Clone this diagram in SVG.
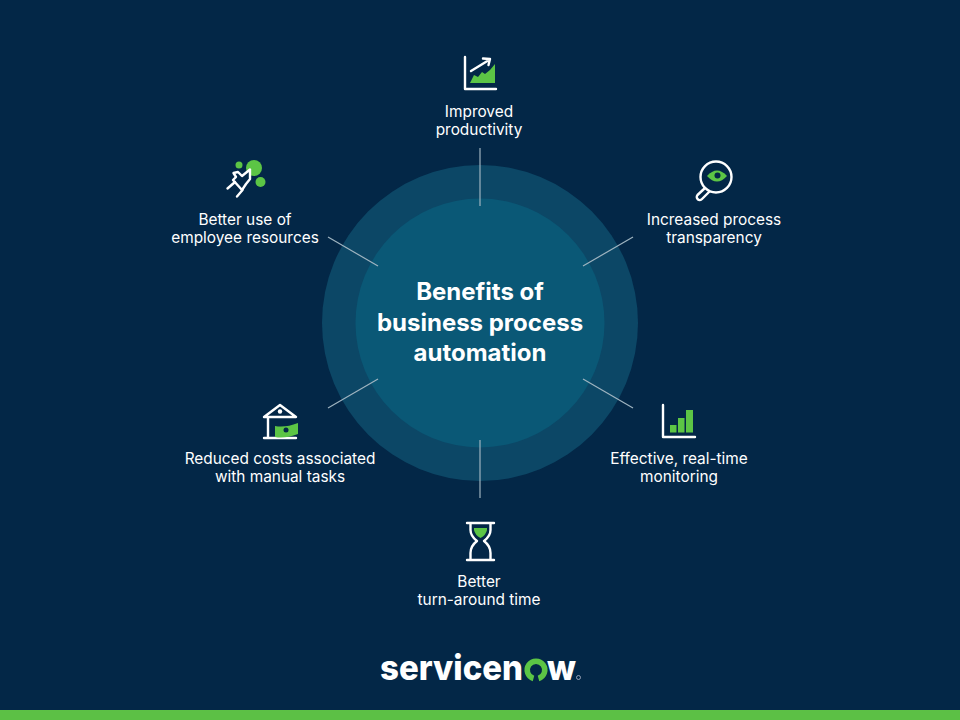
<svg xmlns="http://www.w3.org/2000/svg" width="960" height="720" viewBox="0 0 960 720">
<style>
.lbl{font-family:"Inter","Noto Sans",sans-serif;font-size:15.400px;fill:#fff;text-anchor:middle}
.ttl{font-family:"Inter","Noto Sans",sans-serif;font-size:24px;font-weight:700;fill:#fff;text-anchor:middle}
.ln{stroke:#fff;stroke-width:2.400;fill:none;stroke-linecap:round;stroke-linejoin:round}
.gr{fill:#5cc545}
.con{stroke:#9fb4c0;stroke-width:1.200;fill:none}
.logo{font-family:"Inter","Noto Sans",sans-serif;font-size:35px;font-weight:800;fill:#fff}
</style>
<rect width="960" height="720" fill="#032747"/>
<rect y="710" width="960" height="10" fill="#5cc045"/>
<circle cx="480" cy="323" r="158" fill="#0c4766"/>
<circle cx="480" cy="323" r="124.500" fill="#0a5876"/>
<g id="connectors">
<line class="con" x1="480" y1="148" x2="480" y2="206"/>
<line class="con" x1="633" y1="237" x2="583" y2="266"/>
<line class="con" x1="633" y1="408" x2="583" y2="379"/>
<line class="con" x1="480" y1="440" x2="480" y2="498"/>
<line class="con" x1="328" y1="408" x2="378" y2="379"/>
<line class="con" x1="328" y1="237" x2="378" y2="266"/>
</g>
<g id="center"><text class="ttl" x="480" y="299.500">Benefits of</text><text class="ttl" x="480" y="330.500">business process</text><text class="ttl" x="480" y="361">automation</text></g>
<g id="productivity">
<path class="gr" d="M470 83 L474 75 L478 77 L482 72 L485 74 L490 70 L495 64 V83 Z"/>
<path class="ln" d="M465 57 V89 H496"/>
<path class="ln" d="M471 71 L489 60 M483 58.500 L490 59 L488.500 65"/>
<text class="lbl" x="479" y="117">Improved</text><text class="lbl" x="479" y="135">productivity</text>
</g>
<g id="transparency">
<circle class="ln" cx="716" cy="177" r="15.500"/>
<path class="gr" d="M707 176 Q717 165 727 176 Q717 187 707 176 Z"/>
<circle cx="717.500" cy="175.500" r="3" fill="#032747"/>
<path class="ln" d="M705 188 L697.500 195 A2.800 2.800 0 0 0 702 199 L709 192"/>
<text class="lbl" x="714" y="225">Increased process</text><text class="lbl" x="714" y="243">transparency</text>
</g>
<g id="monitoring">
<path class="ln" d="M663 405 V437 H695"/>
<rect class="gr" x="670" y="425" width="6.500" height="7.500"/>
<rect class="gr" x="678" y="418" width="6.500" height="14.500"/>
<rect class="gr" x="686" y="410" width="7" height="22.500"/>
<text class="lbl" x="679" y="464">Effective, real-time</text><text class="lbl" x="679" y="482">monitoring</text>
</g>
<g id="turnaround">
<path class="ln" d="M467 523 H494 M467 560 H494 M470.500 523 V530 Q470.500 536 477 541 Q470.500 546 470.500 553 V560 M490.500 523 V530 Q490.500 536 484 541 Q490.500 546 490.500 553 V560"/>
<path class="gr" d="M474 528 H487 V530 Q486 535 480.500 538 Q475 535 474 530 Z"/>
<text class="lbl" x="479" y="587">Better</text><text class="lbl" x="479" y="605">turn-around time</text>
</g>
<g id="costs">
<path class="ln" d="M264 417 L280 405 L296 417 Z M268 418 V438 M264 438 H296"/>
<circle cx="280" cy="411.500" r="2.200" fill="#fff"/>
<path class="gr" d="M275 426 Q285 428 298 423 V434 Q285 439 275 437 Z"/>
<circle cx="286" cy="430" r="2.500" fill="#032747"/>
<text class="lbl" x="280" y="464">Reduced costs associated</text><text class="lbl" x="280" y="482">with manual tasks</text>
</g>
<g id="resources">
<circle class="gr" cx="254" cy="168" r="8"/><circle class="gr" cx="239" cy="165" r="3.500"/><circle class="gr" cx="260.500" cy="182" r="5"/>
<path class="ln" style="fill:#032747" d="M233.500 173 L238 172 L242 176 L250 169.500 L250 179 L246 184 L242 190 L233 180 L236 177 Z"/>
<path class="ln" d="M235 182 L227.500 188.500 M242.500 190 L237 196.500"/>
<text class="lbl" x="245" y="225">Better use of</text><text class="lbl" x="245" y="243">employee resources</text>
</g>
<g id="logo">
<text class="logo" x="380" y="680" textLength="143" lengthAdjust="spacingAndGlyphs">servicen</text>
<path d="M533.500 678.500 A8.800 8.800 0 1 1 538.500 678.500" fill="none" stroke="#5cc545" stroke-width="5.500"/>
<text class="logo" x="547" y="680" textLength="29" lengthAdjust="spacingAndGlyphs">w</text>
<circle cx="578.500" cy="677.500" r="2" fill="none" stroke="#ccd" stroke-width=".7"/>
</g>
</svg>
